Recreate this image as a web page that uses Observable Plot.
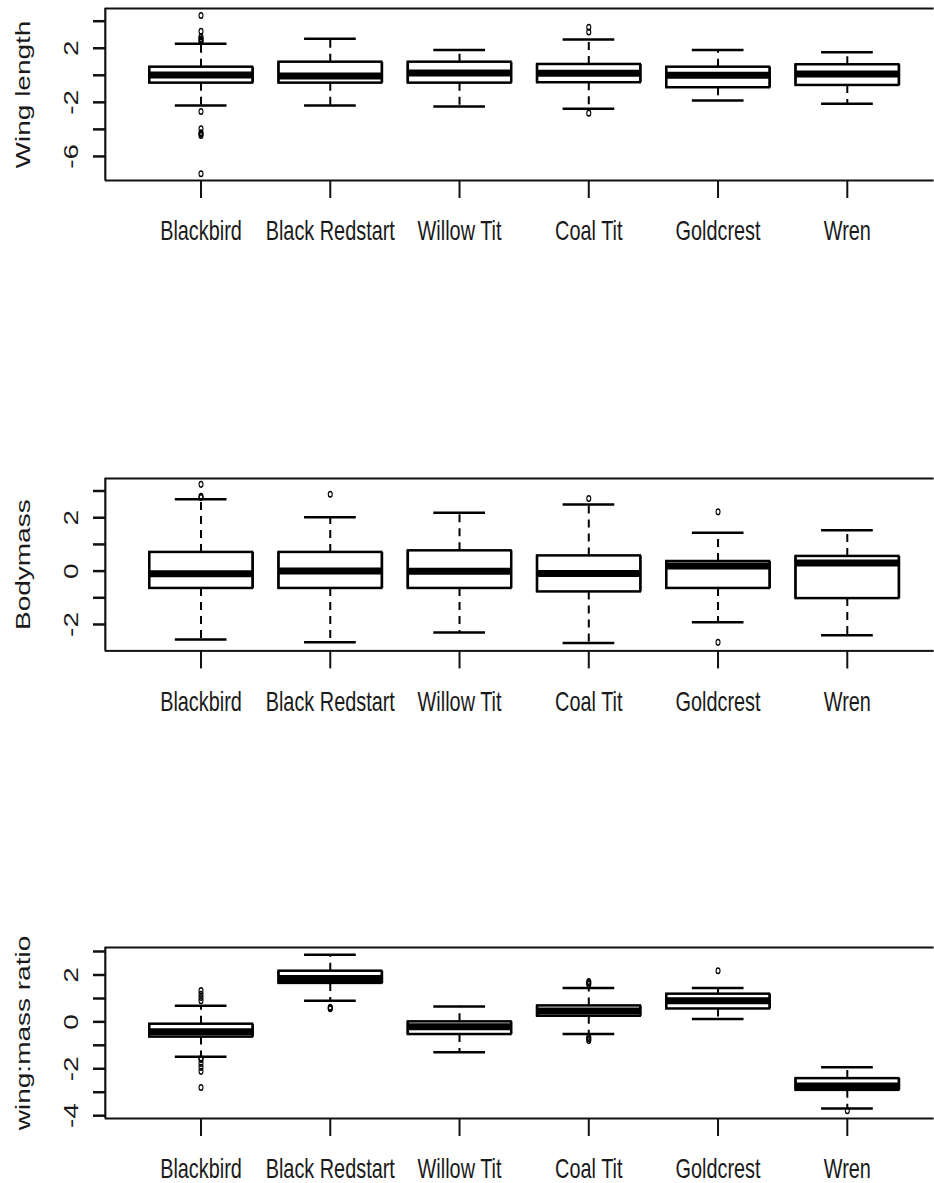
<!DOCTYPE html>
<html><head><meta charset="utf-8">
<script src="https://cdn.jsdelivr.net/npm/d3@7"></script>
<script src="https://cdn.jsdelivr.net/npm/@observablehq/plot@0.6"></script>
<style>
html,body{margin:0;padding:0;background:#fff;overflow:hidden;width:934px;height:1183px;}
#wrap{position:relative;width:934px;height:1183px;overflow:hidden;background:#fff;}
</style></head>
<body><div id="wrap"></div>
<script>
const species = ["Blackbird", "Black Redstart", "Willow Tit", "Coal Tit", "Goldcrest", "Wren"];

// Panel 1: Wing length
const wingLow    = [-2.23, -2.23, -2.30, -2.48, -1.86, -2.10];
const wingQ1     = [-0.58, -0.58, -0.58, -0.55, -0.92, -0.75];
const wingMedian = [ 0.02, -0.05,  0.17,  0.16,  0.00,  0.10];
const wingQ3     = [ 0.60,  0.97,  0.97,  0.80,  0.60,  0.78];
const wingHigh   = [ 2.33,  2.70,  1.88,  2.65,  1.88,  1.70];
const wingOutliers = [
  {species: "Blackbird", value: 4.42}, {species: "Blackbird", value: 3.26},
  {species: "Blackbird", value: 2.85}, {species: "Blackbird", value: 2.70},
  {species: "Blackbird", value: 2.60}, {species: "Blackbird", value: 2.52},
  {species: "Blackbird", value: -2.68}, {species: "Blackbird", value: -3.95},
  {species: "Blackbird", value: -4.25}, {species: "Blackbird", value: -4.35},
  {species: "Blackbird", value: -4.45}, {species: "Blackbird", value: -7.28},
  {species: "Coal Tit", value: 3.55}, {species: "Coal Tit", value: 3.20},
  {species: "Coal Tit", value: -2.80}
];
const wingTicks = [4, 2, 0, -2, -4, -6];
const wingTickLabels = [2, -2, -6];

// Panel 2: Bodymass
const massLow    = [-2.56, -2.67, -2.30, -2.69, -1.92, -2.40];
const massQ1     = [-0.65, -0.65, -0.65, -0.78, -0.65, -1.03];
const massMedian = [-0.10,  0.00, -0.01, -0.09,  0.19,  0.30];
const massQ3     = [ 0.70,  0.70,  0.76,  0.57,  0.36,  0.55];
const massHigh   = [ 2.69,  2.02,  2.19,  2.50,  1.44,  1.53];
const massOutliers = [
  {species: "Blackbird", value: 3.25}, {species: "Blackbird", value: 2.80},
  {species: "Blackbird", value: 2.76},
  {species: "Black Redstart", value: 2.88},
  {species: "Coal Tit", value: 2.72},
  {species: "Goldcrest", value: 2.22}, {species: "Goldcrest", value: -2.67}
];
const massTicks = [3, 2, 1, 0, -1, -2];
const massTickLabels = [2, 0, -2];

// Panel 3: wing:mass ratio
const ratioLow    = [-1.49, 0.90, -1.30, -0.52, 0.12, -3.69];
const ratioQ1     = [-0.65, 1.64, -0.54,  0.24, 0.55, -2.92];
const ratioMedian = [-0.42, 1.85, -0.21,  0.46, 0.90, -2.73];
const ratioQ3     = [-0.10, 2.16,  0.00,  0.68, 1.18, -2.42];
const ratioHigh   = [ 0.69, 2.86,  0.66,  1.44, 1.44, -1.94];
const ratioOutliers = [
  {species: "Blackbird", value: 1.33}, {species: "Blackbird", value: 1.18},
  {species: "Blackbird", value: 1.04}, {species: "Blackbird", value: 0.90},
  {species: "Blackbird", value: -1.56}, {species: "Blackbird", value: -1.60},
  {species: "Blackbird", value: -1.77}, {species: "Blackbird", value: -1.94},
  {species: "Blackbird", value: -2.11}, {species: "Blackbird", value: -2.80},
  {species: "Black Redstart", value: 0.62}, {species: "Black Redstart", value: 0.59},
  {species: "Black Redstart", value: 0.56},
  {species: "Coal Tit", value: 1.72}, {species: "Coal Tit", value: 1.67},
  {species: "Coal Tit", value: 1.60}, {species: "Coal Tit", value: -0.66},
  {species: "Coal Tit", value: -0.72}, {species: "Coal Tit", value: -0.80},
  {species: "Goldcrest", value: 2.18},
  {species: "Wren", value: -3.79}
];
const ratioTicks = [3, 2, 1, 0, -1, -2, -3, -4];
const ratioTickLabels = [2, 0, -2, -4];

// ---- layout (R-style base graphics, horizontally condensed) ----
const s = 0.71;                 // horizontal condensation of the picture
const W = 934 / s;              // virtual width
const frameLeft = 105, frameRight = 942.6;   // actual px
const ML = frameLeft / s;
const MR = W - frameRight / s;
const MT = 30, MB = 72;
const XD = [0.26, 6.74];
const FONT = 28;

const panels = [
  {title: "Wing length", low: wingLow, q1: wingQ1, median: wingMedian, q3: wingQ3, high: wingHigh,
   outliers: wingOutliers, ticks: wingTicks, labels: wingTickLabels, domain: [-7.78, 4.94], frameTop: 8, frameH: 172},
  {title: "Bodymass", low: massLow, q1: massQ1, median: massMedian, q3: massQ3, high: massHigh,
   outliers: massOutliers, ticks: massTicks, labels: massTickLabels, domain: [-2.99, 3.47], frameTop: 478.3, frameH: 172.4},
  {title: "wing:mass ratio", low: ratioLow, q1: ratioQ1, median: ratioMedian, q3: ratioQ3, high: ratioHigh,
   outliers: ratioOutliers, ticks: ratioTicks, labels: ratioTickLabels, domain: [-4.12, 3.17], frameTop: 946.7, frameH: 171}
];

const wrap = document.getElementById("wrap");

for (const cfg of panels) {
  const rows = species.map((name, k) => ({
    name, i: k + 1, lo: cfg.low[k], q1: cfg.q1[k], med: cfg.median[k], q3: cfg.q3[k], hi: cfg.high[k]
  }));
  const out = cfg.outliers.map(o => ({x: species.indexOf(o.species) + 1, y: o.value}));
  const vw = 1 / s; // vertical-line width compensation
  const H = MT + cfg.frameH + MB;

  const svg = Plot.plot({
    width: W,
    height: H,
    marginTop: MT, marginBottom: MB, marginLeft: ML, marginRight: MR,
    x: {domain: XD},
    y: {domain: cfg.domain},
    style: {background: "transparent", color: "#000", fontFamily: "'Liberation Sans', Arial, sans-serif", overflow: "hidden"},
    marks: [
      Plot.frame({stroke: "#111", strokeWidth: 2}),
      Plot.ruleX([XD[0]], {stroke: "#111", strokeWidth: 2 * vw}),
      Plot.axisY({ticks: cfg.ticks, tickSize: 12 / s, tickFormat: () => "", label: null, stroke: "#111", strokeWidth: 2.5}),
      Plot.axisX({ticks: [1, 2, 3, 4, 5, 6], tickSize: 18, tickFormat: () => "", label: null, stroke: "#111", strokeWidth: 2 * vw}),
      // tick labels (rotated, R style las = 0)
      Plot.text(cfg.labels, {x: XD[0], y: d => d, text: d => String(d), rotate: -90, dx: -47, fontSize: FONT, fill: "#1a1a1a", textAnchor: "middle", lineAnchor: "middle"}),
      // axis title
      Plot.text([cfg.title], {frameAnchor: "left", text: d => d, rotate: -90, dx: -115, fontSize: FONT, fill: "#1a1a1a", textAnchor: "middle", lineAnchor: "middle"}),
      // category labels
      Plot.text(species, {x: (d, k) => k + 1, y: cfg.domain[0], text: d => d, dy: 51, fontSize: FONT, fill: "#1a1a1a", textAnchor: "middle", lineAnchor: "middle"}),
      // whiskers (dashed)
      Plot.ruleX(rows, {x: "i", y1: "q3", y2: "hi", stroke: "#000", strokeWidth: 2 * vw, strokeDasharray: "8,6"}),
      Plot.ruleX(rows, {x: "i", y1: "q1", y2: "lo", stroke: "#000", strokeWidth: 2 * vw, strokeDasharray: "8,6"}),
      // whisker caps
      Plot.ruleY(rows, {y: "hi", x1: d => d.i - 0.2, x2: d => d.i + 0.2, stroke: "#000", strokeWidth: 2.5}),
      Plot.ruleY(rows, {y: "lo", x1: d => d.i - 0.2, x2: d => d.i + 0.2, stroke: "#000", strokeWidth: 2.5}),
      // boxes
      Plot.rect(rows, {x1: d => d.i - 0.4, x2: d => d.i + 0.4, y1: "q1", y2: "q3", fill: "#fff", stroke: "#000", strokeWidth: 2.5}),
      Plot.ruleX(rows, {x: d => d.i - 0.4, y1: "q1", y2: "q3", stroke: "#000", strokeWidth: 2.5 * vw}),
      Plot.ruleX(rows, {x: d => d.i + 0.4, y1: "q1", y2: "q3", stroke: "#000", strokeWidth: 2.5 * vw}),
      // medians
      Plot.ruleY(rows, {y: "med", x1: d => d.i - 0.4, x2: d => d.i + 0.4, stroke: "#000", strokeWidth: 7}),
      // outliers
      Plot.dot(out, {x: "x", y: "y", r: 2.8, stroke: "#000", fill: "none", strokeWidth: 1.5})
    ]
  });
  svg.style.position = "absolute";
  svg.style.left = "0px";
  svg.style.top = (cfg.frameTop - MT) + "px";
  svg.style.maxWidth = "none";
  svg.style.width = W + "px";
  svg.style.height = H + "px";
  svg.style.transformOrigin = "0 0";
  svg.style.transform = `scaleX(${s})`;
  wrap.appendChild(svg);
}
</script>
</body></html>
